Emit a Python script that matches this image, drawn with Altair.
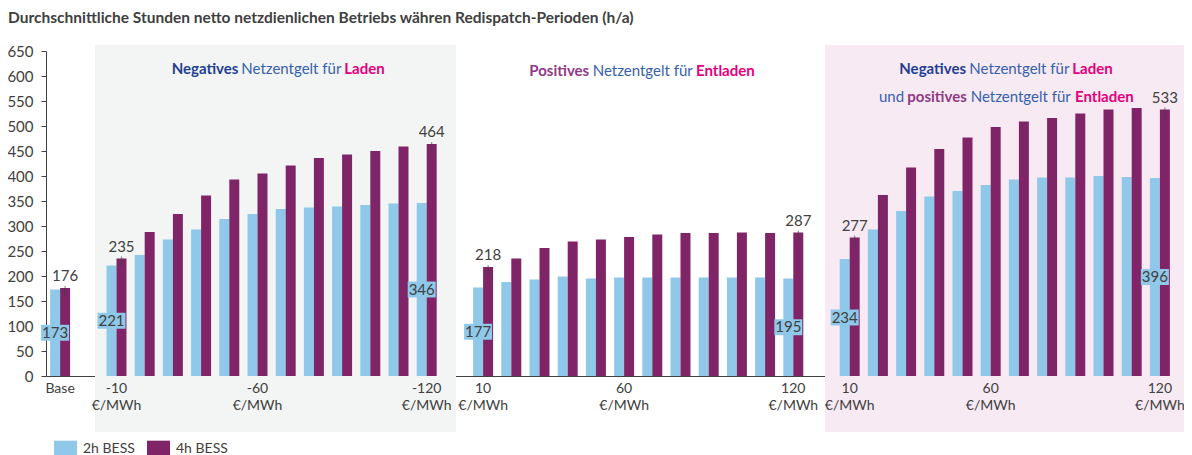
import altair as alt
import pandas as pd

# ---------------- data ----------------
chart_title = "Durchschnittliche Stunden netto netzdienlichen Betriebs währen Redispatch-Perioden (h/a)"
series = ["2h BESS", "4h BESS"]
prices_neg = [-10, -20, -30, -40, -50, -60, -70, -80, -90, -100, -110, -120]
prices_pos = [10, 20, 30, 40, 50, 60, 70, 80, 90, 100, 110, 120]
labelled_prices = [-10, -60, -120, 10, 60, 120]
unit = "€/MWh"

base_2h = 173
base_4h = 176
neg_2h = [221, 242, 273, 293, 314, 324, 334, 337, 339, 342, 345, 346]
neg_4h = [235, 288, 324, 361, 393, 405, 421, 436, 443, 450, 459, 464]
pos_2h = [177, 188, 193, 199, 195, 197, 197, 197, 197, 197, 197, 195]
pos_4h = [218, 235, 256, 269, 273, 278, 283, 286, 286, 287, 286, 287]
both_2h = [234, 293, 330, 359, 370, 382, 393, 397, 397, 400, 398, 396]
both_4h = [277, 362, 417, 454, 477, 498, 509, 516, 525, 533, 536, 533]

y_ticks = list(range(0, 651, 50))

# ---------------- tables ----------------
groups = [("N", prices_neg, neg_2h, neg_4h),
          ("P", prices_pos, pos_2h, pos_4h),
          ("B", prices_pos, both_2h, both_4h)]

slots = ["Base"]
rows = [dict(slot="Base", series=series[0], v=base_2h, lab=True),
        dict(slot="Base", series=series[1], v=base_4h, lab=True)]
xlab = [dict(slot="Base", text="Base")]
for gi, (prefix, prices, b2, b4) in enumerate(groups):
    slots.append(f"gap{gi}")
    for i, pr in enumerate(prices):
        key = f"{prefix}{pr}"
        slots.append(key)
        edge = i in (0, len(prices) - 1)
        rows.append(dict(slot=key, series=series[0], v=b2[i], lab=edge))
        rows.append(dict(slot=key, series=series[1], v=b4[i], lab=edge))
        if pr in labelled_prices:
            xlab.append(dict(slot=key, text=f"{pr}\n{unit}"))

df = pd.DataFrame(rows)
df_xlab = pd.DataFrame(xlab)

# ---------------- styling ----------------
FONT = "Lato"
TXT = "#404040"
BLUE = "#8FC8E8"
PURPLE = "#7F2467"
DARKBLUE = "#1F3F8F"
MIDBLUE = "#3561AC"
MAGENTA = "#E4007C"
LIGHTPURPLE = "#8E3A85"
W, H = 1128, 325
X0, Y0 = 46, 51  # page position of plot origin

xscale = alt.Scale(domain=slots, paddingInner=0.292, paddingOuter=0.146)
xoff = alt.XOffset("series:N", scale=alt.Scale(domain=series, paddingInner=0, paddingOuter=0))
yscale = alt.Scale(domain=[0, 650])

x_axis = alt.Axis(labels=False, ticks=False, title=None, domainColor=TXT, domainWidth=1)
y_axis = alt.Axis(values=y_ticks, grid=False, title=None, tickSize=5, tickColor=TXT,
                  domainColor=TXT, labelColor=TXT, labelFont=FONT, labelFontSize=15,
                  labelPadding=8, labelOverlap=False)

X = alt.X("slot:N", scale=xscale, axis=x_axis)
Y = alt.Y("v:Q", scale=yscale, axis=y_axis)
Ymid = alt.Y("mid:Q", scale=yscale, axis=y_axis)


def px(x):
    return x - X0


def py(y):
    return y - Y0


bg_src = pd.DataFrame({"k": [0]})
bg_gray = alt.Chart(bg_src).mark_rect(color="#F3F5F4").encode(
    x=alt.value(px(95)), x2=alt.value(px(456)), y=alt.value(py(45)), y2=alt.value(py(432)))
bg_pink = alt.Chart(bg_src).mark_rect(color="#F8EAF3").encode(
    x=alt.value(px(825)), x2=alt.value(px(1184)), y=alt.value(py(45)), y2=alt.value(py(432)))

base = alt.Chart(df)

bars = base.mark_bar().encode(
    x=X, xOffset=xoff, y=Y,
    color=alt.Color("series:N", scale=alt.Scale(domain=series, range=[BLUE, PURPLE]),
                    legend=alt.Legend(title=None, orient="none", legendX=px(54), legendY=py(437),
                                      direction="horizontal", columns=2,
                                      symbolType="M-1,-0.7L1,-0.7L1,0.7L-1,0.7Z", symbolSize=529,
                                      symbolStrokeWidth=0, labelFont=FONT, labelFontSize=14,
                                      labelColor=TXT, labelOffset=6, columnPadding=12)))

lab2 = base.transform_filter("datum.lab && datum.series == '2h BESS'").transform_calculate(mid="datum.v / 2")
box = lab2.mark_point(shape="M-1,-0.57L1,-0.57L1,0.57L-1,0.57Z", size=784, filled=True,
                      opacity=1, color=BLUE).encode(x=X, xOffset=xoff, y=Ymid)
box_txt = lab2.mark_text(font=FONT, fontSize=15, color=TXT).encode(
    x=X, xOffset=xoff, y=Ymid, text="v:Q")

lab4 = base.transform_filter("datum.lab && datum.series == '4h BESS'")
tick4 = lab4.mark_tick(orient="vertical", size=11, thickness=1, color="#404040", yOffset=3.5).encode(
    x=X, xOffset=xoff, y=Y)
txt4 = lab4.mark_text(font=FONT, fontSize=15, color=TXT, dy=-12).encode(
    x=X, xOffset=xoff, y=Y, text="v:Q")

xlabels = alt.Chart(df_xlab).mark_text(font=FONT, fontSize=14, color=TXT, lineBreak="\n",
                                        baseline="top", lineHeight=17).encode(
    x=X, y=alt.value(py(382)), text="text:N")

title_layer = alt.Chart(bg_src).mark_text(font=FONT, fontSize=15.5, fontWeight="bold", color=TXT,
                                          align="left", baseline="middle").encode(
    x=alt.value(px(8)), y=alt.value(py(18)), text=alt.value(chart_title))

# group headers: (text, page x start, page y, bold, colour)
segments = [
    ("Negatives", 171.7, 68.7, True, DARKBLUE),
    ("Netzentgelt  für", 241.3, 68.7, False, MIDBLUE),
    ("Laden", 344.3, 68.7, True, MAGENTA),
    ("Positives", 529.3, 70.7, True, LIGHTPURPLE),
    ("Netzentgelt  für", 592.7, 70.7, False, MIDBLUE),
    ("Entladen", 696.0, 70.7, True, MAGENTA),
    ("Negatives", 899.3, 68.7, True, DARKBLUE),
    ("Netzentgelt  für", 969.3, 68.7, False, MIDBLUE),
    ("Laden", 1072.3, 68.7, True, MAGENTA),
    ("und", 879.0, 96.7, False, MIDBLUE),
    ("positives", 907.3, 96.7, True, LIGHTPURPLE),
    ("Netzentgelt  für", 970.7, 96.7, False, MIDBLUE),
    ("Entladen", 1075.0, 96.7, True, MAGENTA),
]
seg_layers = []
for text, sx, sy, bold, col in segments:
    seg_layers.append(
        alt.Chart(bg_src).mark_text(font=FONT, fontSize=15, fontWeight="bold" if bold else "normal",
                                    color=col, align="left", baseline="middle").encode(
            x=alt.value(px(sx)), y=alt.value(py(sy)), text=alt.value(text)))

chart = alt.layer(bg_gray, bg_pink, bars, tick4, box, box_txt, txt4, xlabels, title_layer,
                  *seg_layers).properties(
    width=W, height=H,
    autosize=alt.AutoSizeParams(type="none"),
    padding={"left": 38, "top": 43, "right": 10, "bottom": 79},
    background="white",
).configure_view(stroke=None)

chart.save("out.html", embed_options={"renderer": "svg", "actions": False})
